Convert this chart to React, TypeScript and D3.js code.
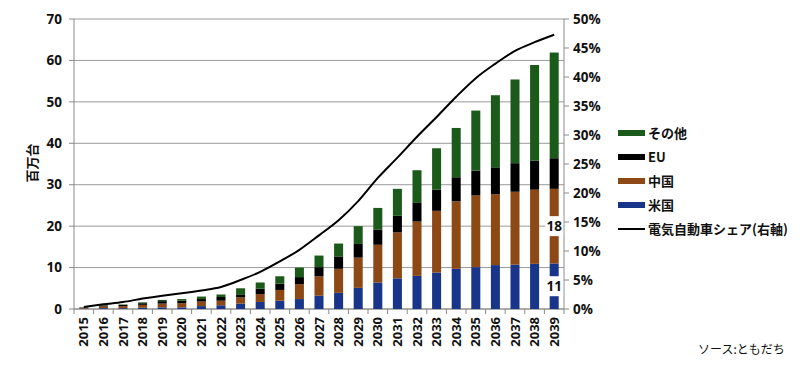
import React from 'react';
import * as d3 from 'd3';

const years = ['2015','2016','2017','2018','2019','2020','2021','2022','2023','2024','2025','2026','2027','2028','2029','2030','2031','2032','2033','2034','2035','2036','2037','2038','2039'];
const usa =   [0.1, 0.2, 0.2, 0.3, 0.4, 0.4, 0.7, 0.9, 1.3, 1.7, 2.0, 2.4, 3.2, 3.9, 5.1, 6.4, 7.4, 8.0, 8.8, 9.7, 10.1, 10.6, 10.7, 10.9, 11];
const china = [0.15, 0.4, 0.5, 0.7, 0.9, 1.0, 1.1, 1.1, 1.5, 1.9, 2.6, 3.6, 4.7, 5.8, 7.3, 9.1, 11.1, 13.1, 14.9, 16.3, 17.3, 17.1, 17.6, 17.9, 18];
const eu =    [0.1, 0.25, 0.3, 0.4, 0.6, 0.6, 0.6, 0.9, 0.6, 1.3, 1.5, 1.7, 2.2, 3.0, 3.3, 3.7, 4.0, 4.5, 5.1, 5.8, 6.0, 6.5, 6.9, 7.0, 7.4];
const other = [0.05, 0.1, 0.1, 0.2, 0.3, 0.4, 0.6, 0.6, 1.6, 1.5, 1.8, 2.3, 2.8, 3.1, 4.3, 5.2, 6.5, 7.9, 10.0, 11.9, 14.5, 17.4, 20.2, 23.1, 25.5];
const share = [0.35, 0.8, 1.2, 1.8, 2.3, 2.7, 3.2, 3.8, 5.0, 6.4, 8.2, 10.2, 12.7, 15.3, 18.6, 22.6, 26.1, 29.7, 33.1, 36.6, 39.8, 42.3, 44.5, 46.0, 47.3];
const leftTicks = [0, 10, 20, 30, 40, 50, 60, 70];
const rightTicks = [0, 5, 10, 15, 20, 25, 30, 35, 40, 45, 50];
const seriesKeys = ['usa', 'china', 'eu', 'other'];
const seriesNames = ['米国', '中国', 'EU', 'その他'];
const seriesColors = ['#19358a', '#8c4815', '#000000', '#1b5a1b'];
const labeledKeys = ['usa', 'china'];
const lineName = '電気自動車シェア(右軸)';
const yTitle = '百万台';
const source = 'ソース:ともだち';

const FONT = "'Open Sans', 'Noto Sans CJK JP', sans-serif";
const JFONT = "'Noto Sans CJK JP', 'Open Sans', sans-serif";

export default function App() {
  const left = 74, right = 564, top = 19, bottom = 309;
  const x = d3.scaleBand<string>().domain(years).range([left, right]).paddingInner(0.54).paddingOuter(0.27);
  const band = (right - left) / years.length;
  const y = d3.scaleLinear().domain([0, 70]).range([bottom, top]);
  const yR = d3.scaleLinear().domain([0, 50]).range([bottom, top]);

  const table = years.map((yr, i) => ({ year: yr, usa: usa[i], china: china[i], eu: eu[i], other: other[i] }));
  const stacked = d3.stack<any>().keys(seriesKeys)(table);

  const cx = (yr: string) => (x(yr) as number) + x.bandwidth() / 2;
  const line = d3.line<number>()
    .x((_, i) => cx(years[i]))
    .y((d) => yR(d))
    .curve(d3.curveMonotoneX);

  const lastIdx = years.length - 1;
  const legendItems = [...seriesKeys.map((k, i) => ({ name: seriesNames[i], color: seriesColors[i], type: 'rect' })).reverse(), { name: lineName, color: '#000', type: 'line' }];

  return (
    <svg width={800} height={365} style={{ position: 'fixed', left: 0, top: 0, background: '#fff' }}>
      <rect x={0} y={0} width={800} height={365} fill="#fff" />
      {leftTicks.map((t) => (
        <line key={'g' + t} x1={left} x2={right} y1={y(t)} y2={y(t)} stroke="#9a9a9a" strokeWidth={1} />
      ))}
      <line x1={left} x2={left} y1={top} y2={bottom} stroke="#8a8a8a" />
      {leftTicks.map((t) => (
        <g key={'l' + t}>
          <line x1={left - 5} x2={left} y1={y(t)} y2={y(t)} stroke="#8a8a8a" />
          <text x={left - 12} y={y(t)} dy="0.35em" textAnchor="end" fontFamily={FONT} fontWeight="bold" fontSize={13.5} fill="#111">{t}</text>
        </g>
      ))}
      <text transform={`translate(37,163) rotate(-90)`} textAnchor="middle" fontFamily={JFONT} fontWeight="bold" fontSize={13} fill="#111">{yTitle}</text>
      <line x1={right} x2={right} y1={top} y2={bottom} stroke="#8a8a8a" />
      {rightTicks.map((t) => (
        <g key={'r' + t}>
          <line x1={right} x2={right + 5} y1={yR(t)} y2={yR(t)} stroke="#8a8a8a" />
          <text x={right + 9} y={yR(t)} dy="0.35em" textAnchor="start" fontFamily={FONT} fontWeight="bold" fontSize={13.5} fill="#111">{t + '%'}</text>
        </g>
      ))}
      <line x1={left} x2={right} y1={bottom} y2={bottom} stroke="#8a8a8a" />
      {years.map((yr, i) => (
        <line key={'xt' + yr} x1={left + i * band} x2={left + i * band} y1={bottom} y2={bottom + 5} stroke="#8a8a8a" />
      ))}
      <line x1={right} x2={right} y1={bottom} y2={bottom + 5} stroke="#8a8a8a" />
      {years.map((yr) => (
        <text key={'xl' + yr} transform={`translate(${cx(yr)},${bottom + 8}) rotate(-90)`} dy="0.36em" textAnchor="end" fontFamily={FONT} fontWeight="bold" fontSize={13} fill="#111">{yr}</text>
      ))}
      {stacked.map((s, si) => (
        <g key={s.key} fill={seriesColors[si]}>
          {s.map((d, i) => (
            <rect key={i} x={x(years[i])} width={x.bandwidth()} y={y(d[1])} height={Math.max(0, y(d[0]) - y(d[1]))} />
          ))}
        </g>
      ))}
      {stacked.filter((s) => labeledKeys.includes(s.key)).map((s) => {
        const d = s[lastIdx];
        const v = d[1] - d[0];
        const my = y((d[0] + d[1]) / 2);
        return (
          <g key={'lab' + s.key}>
            <rect x={cx(years[lastIdx]) - 9} y={my - 10} width={18} height={20} fill="#fff" />
            <text x={cx(years[lastIdx])} y={my} dy="0.36em" textAnchor="middle" fontFamily={FONT} fontWeight="bold" fontSize={13.5} fill="#111">{Math.round(v)}</text>
          </g>
        );
      })}
      <path d={line(share) as string} fill="none" stroke="#000" strokeWidth={2} />
      {legendItems.map((it, i) => {
        const ly = 133 + i * 24;
        return (
          <g key={'lg' + i}>
            {it.type === 'rect'
              ? <rect x={618} y={ly - 3} width={27} height={6} fill={it.color} />
              : <line x1={618} x2={645} y1={ly} y2={ly} stroke="#000" strokeWidth={2} />}
            <text x={648} y={ly} dy="0.36em" fontFamily={JFONT} fontWeight="bold" fontSize={13} fill="#111">{it.name}</text>
          </g>
        );
      })}
      <text x={698} y={350} dy="0.36em" fontFamily={JFONT} fontSize={12} fill="#111">{source}</text>
    </svg>
  );
}
